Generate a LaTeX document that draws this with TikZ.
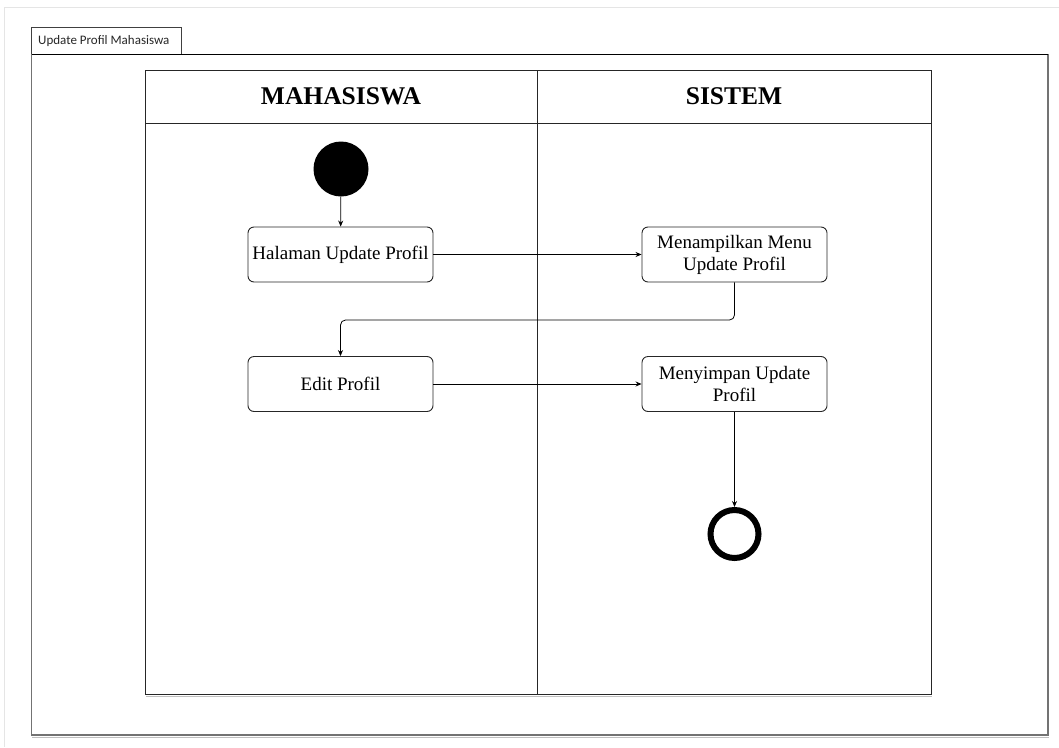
\documentclass[tikz,border=0pt]{standalone}
\usepackage{fontspec}
\setmainfont{Liberation Serif}
\newfontfamily\tabfont{Carlito}
\usetikzlibrary{arrows.meta}
\tikzset{
  act/.style={draw=black!85, line width=0.9pt, rounded corners=6pt, minimum width=185pt, minimum height=55pt, align=center, font=\fontsize{19}{22}\selectfont, inner sep=2pt},
  flow/.style={draw=black, line width=0.8pt, -{Stealth[length=6pt,width=5pt]}},
  lane/.style={draw=black!85, line width=0.9pt},
  hdr/.style={font=\fontsize{25.5}{28}\selectfont\bfseries},
}
\begin{document}
\begin{tikzpicture}[x=1pt,y=-1pt]
\useasboundingbox (0,0) rectangle (1059,747);
% faint page border
\draw[black!10, line width=0.8pt] (4,747) -- (4,7) -- (1059,7);
% outer frame with tab
\draw[black!55, line width=1.2pt] (31.5,54) -- (31.5,735) -- (1048,735) -- (1048,54);
\draw[black!25, line width=1pt] (32,737) -- (1049,737);
\draw[black!55, line width=1.8pt] (1048.5,54) -- (1048.5,735);
\draw[black, line width=1pt] (31.5,54) -- (1048,54);
\draw[black!75, line width=0.9pt] (31.5,54) -- (31.5,27.5) -- (181,27.5) -- (181,54);
\node[anchor=west, inner sep=0pt, font=\tabfont\fontsize{13}{15}\selectfont, text=black!85] (tab) at (38,41) {Update Profil Mahasiswa};
% swimlanes
\draw[lane] (145,70) rectangle (931,694);
\draw[lane] (145,123) -- (931,123);
\draw[lane] (537,70) -- (537,694);
\draw[black!25, line width=1pt] (146,696) -- (932,696);
\node[hdr] (h1) at (341,96) {MAHASISWA};
\node[hdr] (h2) at (734,96) {SISTEM};
% nodes
\node[circle, fill=black, minimum size=55pt, inner sep=0pt] (start) at (341,169) {};
\node[act] (halaman) at (340.5,254.5) {Halaman Update Profil};
\node[act] (menampilkan) at (734.5,254.5) {Menampilkan Menu\\Update Profil};
\node[act] (edit) at (340.5,384) {Edit Profil};
\node[act] (menyimpan) at (734.5,384) {Menyimpan Update\\Profil};
\node[circle, draw=black, line width=6pt, minimum size=48pt, inner sep=0pt] (end) at (734.5,534) {};
% connectors
\draw[flow] (start) -- (halaman);
\draw[flow] (halaman) -- (menampilkan);
\draw[flow, rounded corners=5pt] (menampilkan.south) |- (edit.north |- 0,320) -- (edit.north);
\draw[flow] (edit) -- (menyimpan);
\draw[flow] (menyimpan.south) -- (end.north);
\end{tikzpicture}
\end{document}
